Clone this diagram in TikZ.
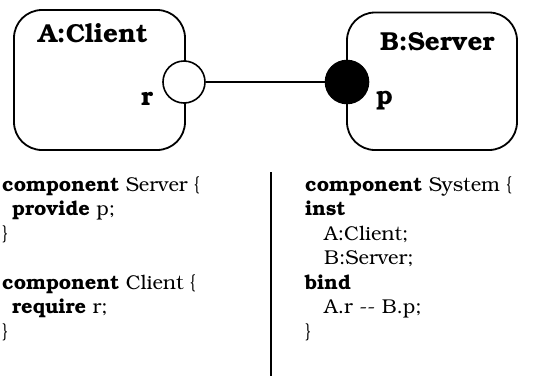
\documentclass[tikz,border=0pt]{standalone}
\usepackage[T1]{fontenc}
\usepackage{bookman}
\begin{document}
\begin{tikzpicture}[x=1pt,y=-1pt,
  comp/.style={draw, line width=1.8pt, rounded corners=28pt, inner sep=0pt},
  reqport/.style={circle, draw, line width=1.6pt, fill=white, minimum size=42pt, inner sep=0pt},
  provport/.style={circle, draw, line width=1.6pt, fill=black, minimum size=43pt, inner sep=0pt},
  lbl/.style={anchor=base west, inner sep=0pt, font=\fontsize{26}{30}\selectfont\bfseries},
  code/.style={anchor=base west, inner sep=0pt, font=\fontsize{20}{24}\selectfont},
  wire/.style={line width=1.6pt}]
\useasboundingbox (0,0) rectangle (558,376);
% components
\node[comp, minimum width=171pt, minimum height=140pt] (A) at (99.5,80) {};
\node[comp, minimum width=170pt, minimum height=137.5pt] (B) at (432,81.25) {};
\node[lbl] (Alabel) at (38,42) {A:Client};
\node[lbl] (Blabel) at (380,50) {B:Server};
% ports
\node[reqport] (r) at (184,82) {};
\node[provport] (p) at (347,82) {};
\node[lbl] (rlabel) at (141,105) {r};
\node[lbl] (plabel) at (376,104) {p};
\draw[wire] (r.east) -- (p.west);
% textual description
\node[code] (l1) at (2,191) {\textbf{component} Server \{};
\node[code] (l2) at (12,215.5) {\textbf{provide} p;};
\node[code] (l3) at (2,240) {\}};
\node[code] (l4) at (2,289) {\textbf{component} Client \{};
\node[code] (l5) at (12,313.5) {\textbf{require} r;};
\node[code] (l6) at (2,338) {\}};
\coordinate (dtop) at (271,172);
\coordinate (dbot) at (271,376);
\draw[line width=2.5pt] (dtop) -- (dbot);
\node[code] (s1) at (305,191) {\textbf{component} System \{};
\node[code] (s2) at (305,215.5) {\textbf{inst}};
\node[code] (s3) at (324,240) {A:Client;};
\node[code] (s4) at (324,264.5) {B:Server;};
\node[code] (s5) at (305,289) {\textbf{bind}};
\node[code] (s6) at (324,313.5) {A.r -{}- B.p;};
\node[code] (s7) at (305,338) {\}};
\end{tikzpicture}
\end{document}
